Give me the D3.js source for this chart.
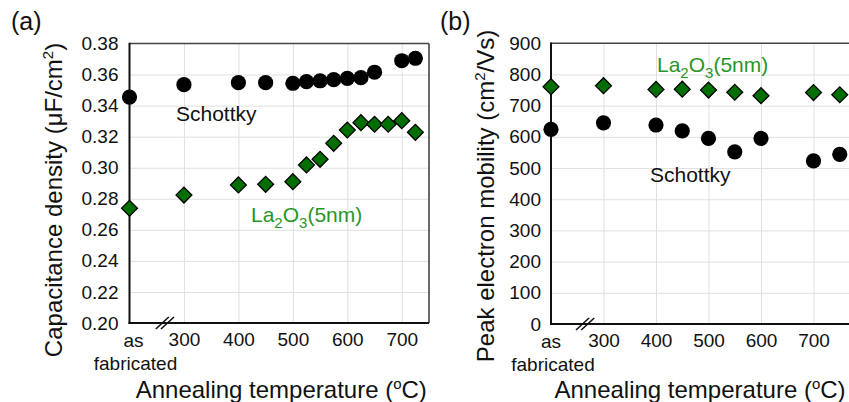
<!DOCTYPE html>
<html>
<head>
<meta charset="utf-8">
<script src="https://cdn.jsdelivr.net/npm/d3@7"></script>
<style>
  html, body { margin: 0; padding: 0; background: #fff; }
  svg { display: block; }
  text { font-family: "Liberation Sans", Arial, sans-serif; fill: #111; }
</style>
</head>
<body>
<svg id="chart" width="849" height="402"></svg>
<script>
// ---------- DATA ----------
// "as fabricated" is plotted at position 200 on the temperature axis
const AS_FAB = 200;
const xTickValues = [300, 400, 500, 600, 700];
const xTickLabelAsFab = ["as", "fabricated"];

// Panel (a): capacitance density (uF/cm2)
const capSchottkyT = [200, 300, 400, 450, 500, 525, 550, 575, 600, 625, 650, 700, 725];
const capSchottkyV = [0.3455, 0.3535, 0.3548, 0.3548, 0.3544, 0.3554, 0.3560, 0.3567, 0.3576, 0.3580, 0.3615, 0.3689, 0.3705];
const capLaT = [200, 300, 400, 450, 500, 525, 550, 575, 600, 625, 650, 675, 700, 725];
const capLaV = [0.2739, 0.2824, 0.2889, 0.2893, 0.2910, 0.3018, 0.3054, 0.3157, 0.3243, 0.3290, 0.3280, 0.3280, 0.3303, 0.3228];
const capYTicks = [0.20, 0.22, 0.24, 0.26, 0.28, 0.30, 0.32, 0.34, 0.36, 0.38];

// Panel (b): peak electron mobility (cm2/Vs)
const mobT = [200, 300, 400, 450, 500, 550, 600, 700, 750];
const mobLaV = [761, 764, 752, 753, 750, 743, 732, 742, 735];
const mobSchottkyV = [624, 645, 638, 619, 595, 552, 595, 523, 544];
const mobYTicks = [0, 100, 200, 300, 400, 500, 600, 700, 800, 900];

// ---------- STYLE ----------
const GREEN_FILL = "#006e00";
const GREEN_TEXT = "#279627";
const GRID = "#e0e0e0";

const svg = d3.select("#chart");

function panel(opts) {
  const g = svg.append("g");
  const x = opts.x, y = opts.y;
  const [x0, x1] = x.range();
  const [y0, y1] = y.range(); // y0 bottom, y1 top
  const w = x1 - x0, h = y0 - y1;

  // grid
  g.append("g").attr("transform", `translate(0,${y0})`)
    .call(d3.axisBottom(x).tickValues(opts.xGrid).tickSize(-h).tickFormat(""))
    .call(s => s.select(".domain").remove())
    .call(s => s.selectAll("line").attr("stroke", GRID).attr("stroke-width", 1));
  g.append("g").attr("transform", `translate(${x0},0)`)
    .call(d3.axisLeft(y).tickValues(opts.yTicks.slice(1, -1)).tickSize(-w).tickFormat(""))
    .call(s => s.select(".domain").remove())
    .call(s => s.selectAll("line").attr("stroke", GRID).attr("stroke-width", 1));

  // frame: top & right thinner
  g.append("line").attr("x1", x0).attr("x2", x1).attr("y1", y1).attr("y2", y1)
    .attr("stroke", "#444").attr("stroke-width", 1.6);
  g.append("line").attr("x1", x1).attr("x2", x1).attr("y1", y1).attr("y2", y0)
    .attr("stroke", "#444").attr("stroke-width", 1.6);
  // left & bottom axes
  g.append("line").attr("x1", x0).attr("x2", x0).attr("y1", y1 - 0.8).attr("y2", y0 + 1)
    .attr("stroke", "#111").attr("stroke-width", 2);
  g.append("line").attr("x1", x0 - 1).attr("x2", x1).attr("y1", y0).attr("y2", y0)
    .attr("stroke", "#111").attr("stroke-width", 2);

  // axis break marks
  const bx = x(265);
  [-2.6, 2.6].forEach(off => {
    g.append("line")
      .attr("x1", bx + off - 6.5).attr("y1", y0 + 6)
      .attr("x2", bx + off + 6.5).attr("y2", y0 - 6)
      .attr("stroke", "#111").attr("stroke-width", 1.6);
  });

  // y tick labels
  g.append("g").attr("transform", `translate(${x0},0)`)
    .call(d3.axisLeft(y).tickValues(opts.yTicks).tickSize(0).tickPadding(opts.yPad).tickFormat(opts.yFormat))
    .call(s => s.select(".domain").remove())
    .call(s => s.selectAll("text").style("font-size", "19px")
      .style("font-family", '"Liberation Sans", Arial, sans-serif').attr("fill", "#111"));

  // x tick labels
  g.append("g").attr("transform", `translate(0,${y0})`)
    .call(d3.axisBottom(x).tickValues(xTickValues).tickSize(0).tickPadding(10).tickFormat(d3.format("d")))
    .call(s => s.select(".domain").remove())
    .call(s => s.selectAll("text").style("font-size", "19px")
      .style("font-family", '"Liberation Sans", Arial, sans-serif').attr("fill", "#111"));
  g.append("text").attr("x", x(AS_FAB) + opts.asDx).attr("y", y0 + 24)
    .attr("text-anchor", "middle").style("font-size", "19px").text(xTickLabelAsFab[0]);
  g.append("text").attr("x", x(AS_FAB) + opts.fabDx).attr("y", y0 + 47)
    .attr("text-anchor", "middle").style("font-size", "19px").text(xTickLabelAsFab[1]);

  // x title
  const xt = g.append("text").attr("x", (x0 + Math.min(x1, 849)) / 2 + opts.xTitleDx).attr("y", 398)
    .attr("text-anchor", "middle").style("font-size", "24px");
  xt.append("tspan").text("Annealing temperature (");
  xt.append("tspan").attr("dy", -9).style("font-size", "15px").text("o");
  xt.append("tspan").attr("dy", 9).text("C)");

  // y title
  const yt = g.append("text")
    .attr("transform", `translate(${opts.yTitleX},${opts.yTitleY}) rotate(-90)`)
    .attr("text-anchor", "middle").style("font-size", "24px");
  opts.yTitle(yt);

  // panel letter
  g.append("text").attr("x", opts.letterX).attr("y", 30).style("font-size", "25px").text(opts.letter);

  return g;
}

function drawCircles(g, x, y, ts, vs) {
  g.append("g").selectAll("circle").data(ts.map((t, i) => [t, vs[i]])).join("circle")
    .attr("cx", d => x(d[0])).attr("cy", d => y(d[1])).attr("r", 7.6).attr("fill", "#000");
}
function drawDiamonds(g, x, y, ts, vs) {
  const sym = d3.symbol().type(d3.symbolSquare).size(126);
  g.append("g").selectAll("path").data(ts.map((t, i) => [t, vs[i]])).join("path")
    .attr("d", sym)
    .attr("transform", d => `translate(${x(d[0])},${y(d[1])}) rotate(45)`)
    .attr("fill", GREEN_FILL).attr("stroke", "#000").attr("stroke-width", 1.3);
}
function laLabel(g, xPos, yPos) {
  const t = g.append("text").attr("x", xPos).attr("y", yPos).style("font-size", "21px").attr("fill", GREEN_TEXT);
  t.append("tspan").text("La").attr("fill", GREEN_TEXT);
  t.append("tspan").attr("dy", 6).style("font-size", "15px").attr("fill", GREEN_TEXT).text("2");
  t.append("tspan").attr("dy", -6).attr("fill", GREEN_TEXT).text("O");
  t.append("tspan").attr("dy", 6).style("font-size", "15px").attr("fill", GREEN_TEXT).text("3");
  t.append("tspan").attr("dy", -6).attr("fill", GREEN_TEXT).text("(5nm)");
}

// ---------- PANEL (a) ----------
const xA = d3.scaleLinear().domain([200, 750]).range([129.5, 429]);
const yA = d3.scaleLinear().domain([0.20, 0.38]).range([323, 43.5]);
const gA = panel({
  x: xA, y: yA, xGrid: xTickValues, yTicks: capYTicks, yPad: 11,
  yFormat: d3.format(".2f"), asDx: 4, fabDx: 6, xTitleDx: 2,
  yTitleX: 62, yTitleY: 200, letter: "(a)", letterX: 11,
  yTitle: t => {
    t.append("tspan").text("Capacitance density (μF/cm");
    t.append("tspan").attr("dy", -9).style("font-size", "15px").text("2");
    t.append("tspan").attr("dy", 9).text(")");
  }
});
drawCircles(gA, xA, yA, capSchottkyT, capSchottkyV);
drawDiamonds(gA, xA, yA, capLaT, capLaV);
gA.append("text").attr("x", 176).attr("y", 120.5).style("font-size", "21px").text("Schottky");
laLabel(gA, 251, 221.5);

// ---------- PANEL (b) ----------
const xB = d3.scaleLinear().domain([200, 800]).range([551, 866]);
const yB = d3.scaleLinear().domain([0, 900]).range([324, 43.3]);
const gB = panel({
  x: xB, y: yB, xGrid: xTickValues.concat([800]), yTicks: mobYTicks, yPad: 10,
  yFormat: d3.format("d"), asDx: 0, fabDx: 2, xTitleDx: 0,
  yTitleX: 494, yTitleY: 196, letter: "(b)", letterX: 440,
  yTitle: t => {
    t.append("tspan").text("Peak electron mobility (cm");
    t.append("tspan").attr("dy", -9).style("font-size", "15px").text("2");
    t.append("tspan").attr("dy", 9).text("/Vs)");
  }
});
drawCircles(gB, xB, yB, mobT, mobSchottkyV);
drawDiamonds(gB, xB, yB, mobT, mobLaV);
gB.append("text").attr("x", 650).attr("y", 181.5).style("font-size", "21px").text("Schottky");
laLabel(gB, 657, 71.5);
</script>
</body>
</html>
